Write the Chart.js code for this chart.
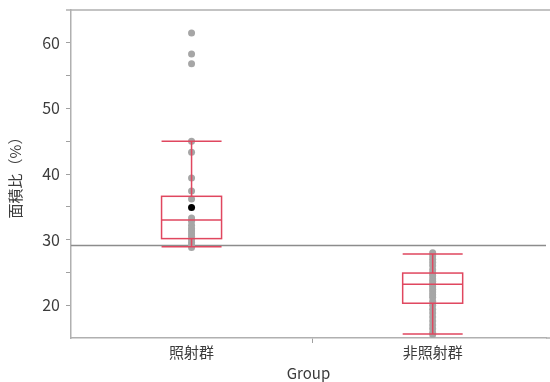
<!DOCTYPE html>
<html>
<head>
<meta charset="utf-8">
<script src="https://cdn.jsdelivr.net/npm/chart.js@4"></script>
<style>
  body { margin: 0; background: #fff; }
</style>
</head>
<body>
<canvas id="myChart" width="550" height="382"></canvas>
<script>
var groups = ['照射群', '非照射群'];

var irradiated = [61.5, 58.3, 56.8, 45.0, 43.3, 39.4, 37.4, 36.2, 33.3, 32.8, 32.2, 31.7,
                  31.3, 30.9, 30.5, 30.0, 29.6, 29.2, 28.8];
var nonIrradiated = [28.0, 27.5, 27.0, 26.5, 26.0, 25.4, 24.9, 24.5, 24.0, 23.6, 23.2, 22.8,
                     22.4, 22.0, 21.6, 21.2, 20.6, 20.0, 19.4, 18.8, 18.2, 17.6, 17.0, 16.4, 15.8, 15.5];

// box summary per group
var whiskerLow = [28.9, 15.6];
var q1 = [30.15, 20.3];
var median = [33.0, 23.2];
var q3 = [36.6, 24.9];
var whiskerHigh = [45.0, 27.8];

var highlighted = [34.9];  // black point in group 1
var grandMean = 29.1;

function toPoints(values, x) {
    return values.map(v => ({ x: x, y: v }));
}

var boxPlugin = {
    id: 'boxes',
    afterDatasetsDraw(chart) {
        const ctx = chart.ctx;
        const xs = chart.scales.x;
        const ys = chart.scales.y;
        const half = 30;
        ctx.save();
        ctx.strokeStyle = '#e0475f';
        ctx.lineWidth = 1.5;
        groups.forEach((g, i) => {
            const cx = xs.getPixelForValue(i + 1);
            const yl = ys.getPixelForValue(whiskerLow[i]);
            const y1 = ys.getPixelForValue(q1[i]);
            const ym = ys.getPixelForValue(median[i]);
            const y3 = ys.getPixelForValue(q3[i]);
            const yh = ys.getPixelForValue(whiskerHigh[i]);
            ctx.beginPath();
            ctx.moveTo(cx, yh); ctx.lineTo(cx, y3);
            ctx.moveTo(cx, y1); ctx.lineTo(cx, yl);
            ctx.moveTo(cx - half, yh); ctx.lineTo(cx + half, yh);
            ctx.moveTo(cx - half, yl); ctx.lineTo(cx + half, yl);
            ctx.moveTo(cx - half, ym); ctx.lineTo(cx + half, ym);
            ctx.stroke();
            ctx.strokeRect(cx - half, y3, half * 2, y1 - y3);
        });
        // highlighted point back on top
        ctx.fillStyle = '#000';
        ctx.beginPath();
        ctx.arc(xs.getPixelForValue(1), ys.getPixelForValue(highlighted[0]), 3.5, 0, Math.PI * 2);
        ctx.fill();
        ctx.restore();
    },
    afterDraw(chart) {
        const ctx = chart.ctx;
        const a = chart.chartArea;
        ctx.save();
        ctx.strokeStyle = '#b0b0b0';
        ctx.lineWidth = 1.5;
        ctx.beginPath();
        ctx.moveTo(a.left - 5, a.top);
        ctx.lineTo(chart.width, a.top);
        ctx.moveTo(a.right, a.bottom);
        ctx.lineTo(chart.width, a.bottom);
        ctx.stroke();
        ctx.restore();
    }
};

const data = {
    datasets: [{
        type: 'line',
        data: [{ x: 0.5, y: grandMean }, { x: 2.6, y: grandMean }],
        borderColor: '#8c8c8c',
        borderWidth: 1.5,
        pointRadius: 0,
        order: 3
    }, {
        type: 'scatter',
        data: toPoints(irradiated, 1),
        backgroundColor: '#a6a6a6',
        borderWidth: 0,
        pointRadius: 3.5,
        order: 2
    }, {
        type: 'scatter',
        data: toPoints(nonIrradiated, 2),
        backgroundColor: '#a6a6a6',
        borderWidth: 0,
        pointRadius: 3.5,
        order: 2
    }]
};

const config = {
    type: 'scatter',
    data: data,
    plugins: [boxPlugin],
    options: {
        responsive: false,
        animation: false,
        layout: { padding: { top: 10, right: 0, bottom: 0, left: 0 } },
        scales: {
            x: {
                type: 'linear',
                min: 0.5,
                max: 2.47,
                afterBuildTicks: s => { s.ticks = [{ value: 1 }, { value: 1.5 }, { value: 2 }]; },
                afterFit: s => { s.height = 44; },
                ticks: {
                    autoSkip: false,
                    maxRotation: 0,
                    padding: 0,
                    color: '#3c3c3c',
                    font: { family: '"Noto Sans CJK JP"', size: 15 },
                    callback: v => v === 1 ? groups[0] : (v === 2 ? groups[1] : '')
                },
                grid: {
                    drawOnChartArea: false,
                    tickLength: 5,
                    color: ctx => ctx.tick && ctx.tick.value === 1.5 ? '#a0a0a0' : 'rgba(0,0,0,0)'
                },
                border: { color: '#b0b0b0', width: 1.5 },
                title: {
                    display: true,
                    text: 'Group',
                    color: '#3c3c3c',
                    padding: { top: 0, bottom: 0 },
                    font: { family: '"Noto Sans CJK JP"', size: 15 }
                }
            },
            y: {
                min: 15,
                max: 65,
                afterFit: s => { s.width = 71; s.paddingTop = 0; s.paddingBottom = 0; },
                afterBuildTicks: s => {
                    s.ticks = [20, 25, 30, 35, 40, 45, 50, 55, 60].map(v => ({ value: v }));
                },
                ticks: {
                    padding: 6,
                    color: '#3c3c3c',
                    font: { family: '"Noto Sans CJK JP"', size: 16 },
                    callback: v => v % 10 === 0 ? v : ''
                },
                grid: {
                    drawOnChartArea: false,
                    tickLength: 5,
                    color: '#a0a0a0'
                },
                border: { color: '#b0b0b0', width: 1.5 },
                title: {
                    display: true,
                    text: '面積比（%）',
                    color: '#3c3c3c',
                    padding: { top: 6, bottom: 0 },
                    font: { family: '"Noto Sans CJK JP"', size: 15 }
                }
            }
        },
        plugins: {
            legend: { display: false },
            tooltip: { enabled: false }
        }
    }
};

const myChart = new Chart(document.getElementById('myChart'), config);
</script>
</body>
</html>
